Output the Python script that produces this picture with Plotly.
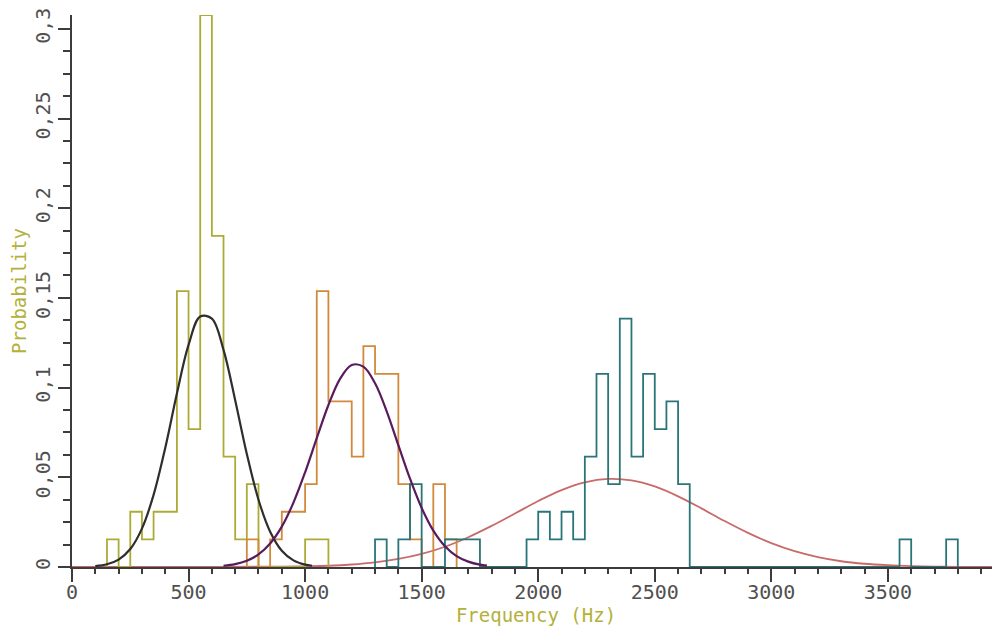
import plotly.graph_objects as go

# ---------------- data ----------------
BIN_WIDTH = 50

# yellow/olive histogram
yellow_start = 150
yellow_prob = [0.0154, 0.0, 0.0308, 0.0154, 0.0308, 0.0308, 0.1538, 0.0769,
               0.3077, 0.1846, 0.0615, 0.0154, 0.0462, 0.0, 0.0, 0.0, 0.0,
               0.0154, 0.0154]

# orange histogram
orange_start = 750
orange_prob = [0.0154, 0.0, 0.0154, 0.0308, 0.0308, 0.0462, 0.1538, 0.0923,
               0.0923, 0.0615, 0.1231, 0.1077, 0.1077, 0.0462, 0.0154, 0.0,
               0.0462, 0.0154]

# teal histogram
teal_start = 1300
teal_prob = [0.0154, 0.0, 0.0154, 0.0462, 0.0, 0.0, 0.0154, 0.0154, 0.0154,
             0.0, 0.0, 0.0, 0.0, 0.0154, 0.0308, 0.0154, 0.0308, 0.0154,
             0.0615, 0.1077, 0.0462, 0.1385, 0.0615, 0.1077, 0.0769, 0.0923,
             0.0462, 0.0, 0.0, 0.0, 0.0, 0.0, 0.0, 0.0, 0.0, 0.0, 0.0, 0.0,
             0.0, 0.0, 0.0, 0.0, 0.0, 0.0, 0.0, 0.0154, 0.0, 0.0, 0.0, 0.0154]

# fitted curves
black_x = [100, 150, 200, 250, 300, 350, 400, 450, 500, 550, 600, 650, 700,
           750, 800, 850, 900, 950, 1000, 1030]
black_y = [0.0005, 0.0015, 0.0041, 0.0100, 0.0214, 0.0402, 0.0664, 0.0967,
           0.1238, 0.1396, 0.1385, 0.1210, 0.0930, 0.0630, 0.0375, 0.0197,
           0.0091, 0.0037, 0.0013, 0.0007]

purple_x = [650, 700, 750, 800, 850, 900, 950, 1000, 1050, 1100, 1150, 1200,
            1250, 1300, 1350, 1400, 1450, 1500, 1550, 1600, 1650, 1700, 1750,
            1780]
purple_y = [0.0007, 0.0016, 0.0035, 0.0070, 0.0131, 0.0225, 0.0359, 0.0528,
            0.0718, 0.0903, 0.1049, 0.1126, 0.1117, 0.1024, 0.0868, 0.0679,
            0.0492, 0.0329, 0.0203, 0.0116, 0.0061, 0.0030, 0.0013, 0.0008]

red_x = [0, 500, 900, 1000, 1100, 1200, 1300, 1400, 1500, 1600, 1700, 1800,
         1900, 2000, 2100, 2200, 2300, 2400, 2500, 2600, 2700, 2800, 2900,
         3000, 3100, 3200, 3300, 3400, 3500, 3600, 3700, 3800, 3980]
red_y = [0.0, 0.0, 0.0002, 0.0004, 0.0007, 0.0014, 0.0026, 0.0045, 0.0073,
         0.0113, 0.0166, 0.0229, 0.0298, 0.0368, 0.0429, 0.0472, 0.0491,
         0.0483, 0.0449, 0.0394, 0.0327, 0.0256, 0.0190, 0.0133, 0.0088,
         0.0055, 0.0032, 0.0018, 0.0010, 0.0005, 0.0002, 0.0001, 0.0]

x_tick_vals = [0, 500, 1000, 1500, 2000, 2500, 3000, 3500]
x_tick_text = ["0", "500", "1000", "1500", "2000", "2500", "3000", "3500"]
y_tick_vals = [0, 0.05, 0.1, 0.15, 0.2, 0.25, 0.3]
y_tick_text = ["0", "0,05", "0,1", "0,15", "0,2", "0,25", "0,3"]

X_MAX = 3981
Y_MAX = 0.3077

# ---------------- helpers ----------------
def step_outline(start, probs):
    xs = [start]
    ys = [0.0]
    for i, p in enumerate(probs):
        xs.append(start + i * BIN_WIDTH)
        ys.append(p)
    xs.append(start + len(probs) * BIN_WIDTH)
    ys.append(0.0)
    return xs, ys

fig = go.Figure()

AXIS_GREY = "#3c3c3c"

# red curve first (sits on the baseline)
fig.add_trace(go.Scatter(x=red_x, y=red_y, mode="lines",
                         line=dict(color="#c96a6a", width=1.8, shape="spline"),
                         hoverinfo="skip"))

for start, probs, col in [(yellow_start, yellow_prob, "#adab36"),
                          (orange_start, orange_prob, "#d18a3c"),
                          (teal_start, teal_prob, "#2a7577")]:
    xs, ys = step_outline(start, probs)
    fig.add_trace(go.Scatter(x=xs, y=ys, mode="lines",
                             line=dict(color=col, width=1.8, shape="hv"),
                             hoverinfo="skip"))

fig.add_trace(go.Scatter(x=black_x, y=black_y, mode="lines",
                         line=dict(color="#2e2e2e", width=2.2, shape="spline"),
                         hoverinfo="skip"))
fig.add_trace(go.Scatter(x=purple_x, y=purple_y, mode="lines",
                         line=dict(color="#5a1a5e", width=2.2, shape="spline"),
                         hoverinfo="skip"))

tick_font = dict(family="DejaVu Sans Mono", size=20, color="#505050")
title_col = "#b3b13a"
title_font = dict(family="DejaVu Sans Mono", size=19, color=title_col)

fig.update_layout(
    width=992, height=622,
    margin=dict(l=64, r=0, t=3, b=63),
    paper_bgcolor="white", plot_bgcolor="white",
    showlegend=False,
    xaxis=dict(range=[0, X_MAX], showgrid=False, zeroline=False,
               showline=True, linecolor=AXIS_GREY, linewidth=1.5,
               tickmode="array", tickvals=x_tick_vals, ticktext=x_tick_text,
               ticks="outside", ticklen=13, tickwidth=1.5, tickcolor=AXIS_GREY,
               minor=dict(dtick=100, tick0=0, ticks="outside", ticklen=5,
                          tickwidth=1.5, tickcolor=AXIS_GREY, showgrid=False),
               tickfont=tick_font, ticklabelstandoff=-7,
               title=dict(text="Frequency (Hz)", standoff=0, font=title_font)),
    yaxis=dict(range=[0, Y_MAX], showgrid=False, zeroline=False,
               showline=True, linecolor=AXIS_GREY, linewidth=1.5,
               tickmode="array", tickvals=y_tick_vals, ticktext=y_tick_text,
               ticks="outside", ticklen=12, tickwidth=1.5, tickcolor=AXIS_GREY,
               minor=dict(dtick=0.0125, tick0=0, ticks="outside", ticklen=7,
                          tickwidth=1.5, tickcolor=AXIS_GREY, showgrid=False),
               tickangle=-90, tickfont=tick_font, ticklabeloverflow="allow",
               title=dict(text="Probability", standoff=2, font=title_font)),
)

fig.write_html("out.html")
